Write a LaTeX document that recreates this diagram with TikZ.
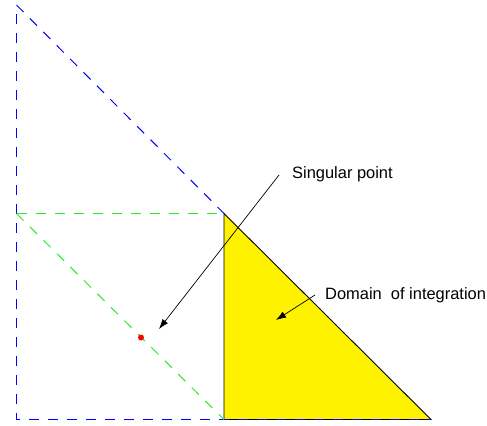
\documentclass[tikz,border=0pt]{standalone}
\usepackage{fontspec}
\setmainfont{Liberation Sans}
\usetikzlibrary{arrows.meta}
\definecolor{brightgreen}{RGB}{40,235,40}
\begin{document}
\begin{tikzpicture}[x=1bp,y=-1bp,
  bluedash/.style={draw=blue, line width=1bp, dash pattern=on 10bp off 9bp},
  greendash/.style={draw=brightgreen, line width=1bp, dash pattern=on 10bp off 9bp},
  lbl/.style={font=\fontsize{16.5}{20}\selectfont, inner sep=0pt, anchor=west},
  pointer/.style={draw=black, line width=0.7bp, -{Latex[length=10bp,width=7bp]}}]
\useasboundingbox (0,0) rectangle (487,425);
% coordinates
\coordinate (TL) at (16.5,5);
\coordinate (VT) at (16.5,14);
\coordinate (BL) at (16.5,419.5);
\coordinate (ML) at (16.5,213.5);
\coordinate (YT) at (224,213.5);
\coordinate (YB) at (224,419.5);
\coordinate (YR) at (431,419.5);
% yellow domain
\fill[yellow] (YT) -- (YB) -- (YR) -- cycle;
\draw[black, line width=0.9bp] (YT) -- (YB) -- (YR) -- cycle;
% blue dashed triangle
\draw[bluedash] (VT) -- (BL) -- (YR);
\draw[bluedash] (TL) -- (YT);
% green dashed
\draw[greendash] (ML) -- (YT);
\draw[greendash] (ML) -- (YB);
% singular point
\node[circle, fill=red, inner sep=0pt, minimum size=6bp] (sp) at (141,337.5) {};
% labels
\node[lbl] (slabel) at (292,174) {Singular point};
\node[lbl] (dlabel) at (325,295) {Domain\ \ of integration};
\coordinate (sfrom) at (279,175);
\coordinate (sto) at (159,329);
\coordinate (dfrom) at (315,295);
\coordinate (dto) at (276,320);
\draw[pointer] (sfrom) -- (sto);
\draw[pointer] (dfrom) -- (dto);
\end{tikzpicture}
\end{document}
